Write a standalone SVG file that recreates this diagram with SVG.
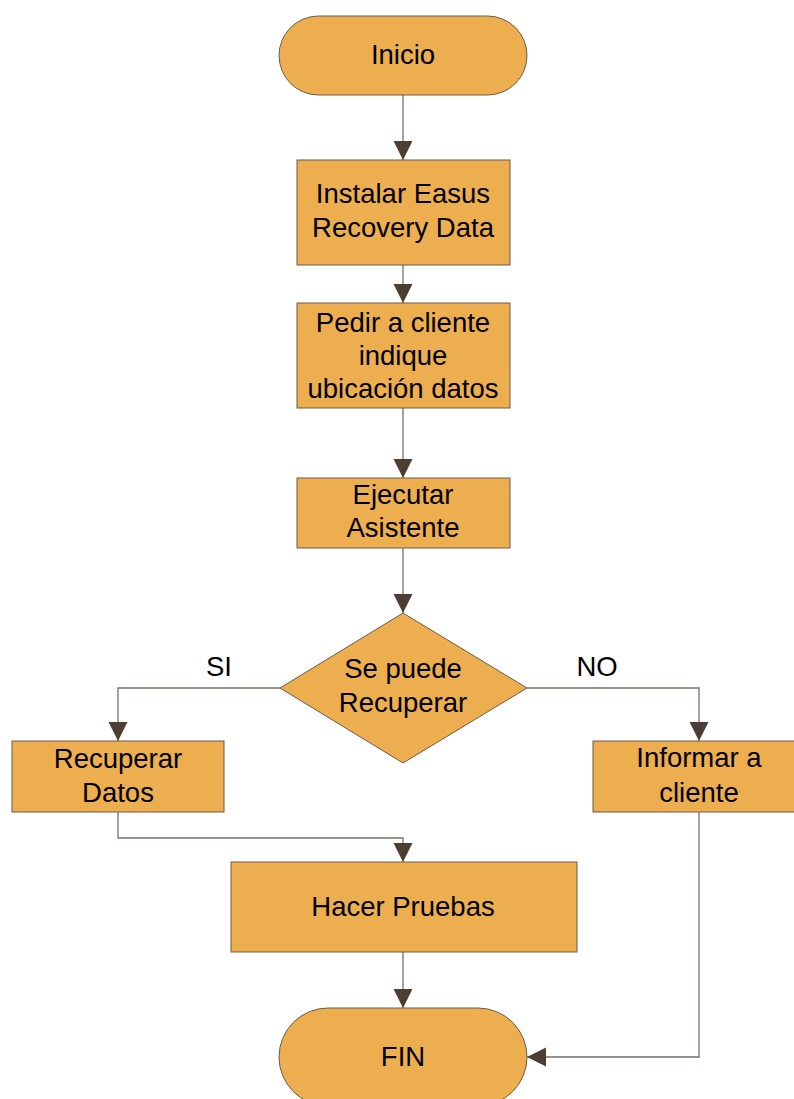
<svg xmlns="http://www.w3.org/2000/svg" width="794" height="1099" viewBox="0 0 794 1099">
<style>
.n{fill:#EDAE50;stroke:#6e5a48;stroke-width:1}
.t{font-family:"Liberation Sans",Arial,sans-serif;font-size:27.5px;fill:#000;text-anchor:middle}
.c{fill:none;stroke:#7a6e68;stroke-width:1.3}
</style>
<defs>
<marker id="a" markerWidth="20" markerHeight="20" refX="19" refY="9.5" orient="auto" markerUnits="userSpaceOnUse">
<path d="M0,0 L19,9.5 L0,19 Z" fill="#4d3e33"/>
</marker>
</defs>
<rect width="794" height="1099" fill="#fff"/>
<g id="connectors">
<path class="c" d="M403,95 V160" marker-end="url(#a)"/>
<path class="c" d="M403,265 V303" marker-end="url(#a)"/>
<path class="c" d="M403,408 V478" marker-end="url(#a)"/>
<path class="c" d="M403,548 V613" marker-end="url(#a)"/>
<path class="c" d="M280,688 H118 V741" marker-end="url(#a)"/>
<path class="c" d="M527,688 H699 V741" marker-end="url(#a)"/>
<path class="c" d="M118,812 V838 H403 V862" marker-end="url(#a)"/>
<path class="c" d="M403,952 V1008" marker-end="url(#a)"/>
<path class="c" d="M699,812 V1057 H527" marker-end="url(#a)"/>
<text class="t" x="219" y="676">SI</text>
<text class="t" x="597" y="676">NO</text>
</g>
<g id="inicio">
<rect class="n" x="279" y="16" width="248" height="79" rx="39.5"/>
<text class="t" x="403" y="64">Inicio</text>
</g>
<g id="instalar">
<rect class="n" x="297" y="160" width="213" height="105"/>
<text class="t" x="403" y="203">Instalar Easus</text>
<text class="t" x="403" y="237">Recovery Data</text>
</g>
<g id="pedir">
<rect class="n" x="297" y="303" width="213" height="105"/>
<text class="t" x="403" y="332">Pedir a cliente</text>
<text class="t" x="403" y="365">indique</text>
<text class="t" x="403" y="398">ubicación datos</text>
</g>
<g id="ejecutar">
<rect class="n" x="297" y="478" width="213" height="70"/>
<text class="t" x="403" y="504">Ejecutar</text>
<text class="t" x="403" y="537">Asistente</text>
</g>
<g id="decision">
<polygon class="n" points="403,613 527,688 403,763 280,688"/>
<text class="t" x="403" y="678">Se puede</text>
<text class="t" x="403" y="712">Recuperar</text>
</g>
<g id="recuperar">
<rect class="n" x="12" y="741" width="212" height="71"/>
<text class="t" x="118" y="768">Recuperar</text>
<text class="t" x="118" y="802">Datos</text>
</g>
<g id="informar">
<rect class="n" x="593" y="741" width="212" height="71"/>
<text class="t" x="699" y="767">Informar a</text>
<text class="t" x="699" y="802">cliente</text>
</g>
<g id="pruebas">
<rect class="n" x="231" y="862" width="346" height="90"/>
<text class="t" x="403" y="916">Hacer Pruebas</text>
</g>
<g id="fin">
<rect class="n" x="279" y="1008" width="248" height="98" rx="49"/>
<text class="t" x="403" y="1066">FIN</text>
</g>
</svg>
